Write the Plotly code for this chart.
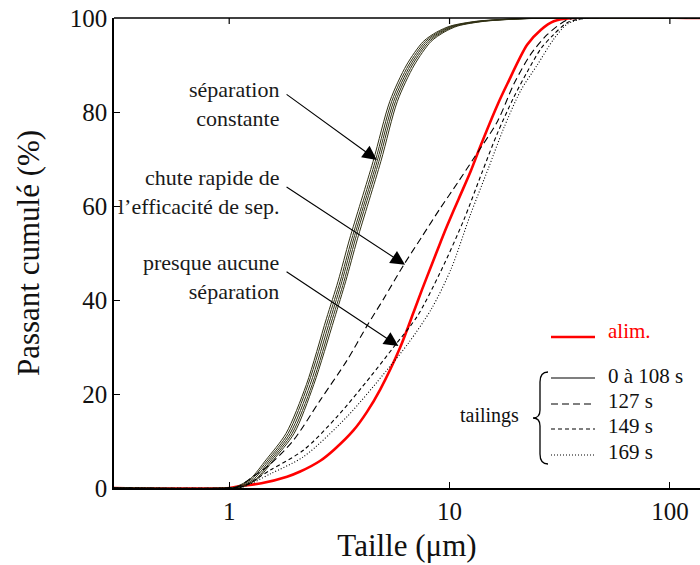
import math
import plotly.graph_objects as go

# ---------------- data ----------------
# feed ("alim.")
size_feed = [0.3, 1.0, 1.12, 1.4, 1.83, 2.1, 2.59, 3.0, 3.67, 4.22, 4.85, 5.98, 6.88, 7.5, 8.3, 9.1,
             9.75, 11, 12.5, 13.8, 16.5, 18.3, 22.5, 26, 29.7, 36, 137]
pct_feed = [0, 0, 0.4, 1.0, 2.4, 3.5, 5.8, 8.2, 12.3, 16.2, 21, 30, 37.5, 42.2, 47.5, 52.3,
            55.8, 61.5, 67.5, 72.7, 81.5, 86, 94.3, 97.5, 99.3, 100, 100]

# tailings 0 to 108 s (bundle of nearly identical curves)
pct_bundle = [0, 0, 0.3, 2, 6, 11.6, 22, 36, 44, 53, 69.5, 82.3, 90, 95, 97, 98.3, 99.3, 99.8, 100, 100]
size_t1 = [0.3, 1.0, 1.08, 1.25, 1.47, 1.81, 2.24, 2.76, 3.12, 3.52, 4.50, 5.36, 6.38, 7.60, 8.74, 10.1, 13.2, 19.2, 29, 137]
size_t2 = [0.3, 1.0, 1.10, 1.27, 1.50, 1.85, 2.28, 2.82, 3.19, 3.60, 4.60, 5.47, 6.52, 7.76, 8.92, 10.3, 13.5, 19.6, 29.5, 137]
size_t3 = [0.3, 1.0, 1.12, 1.30, 1.53, 1.89, 2.33, 2.88, 3.25, 3.67, 4.69, 5.58, 6.65, 7.92, 9.10, 10.5, 13.8, 20.0, 30, 137]
size_t4 = [0.3, 1.0, 1.14, 1.33, 1.56, 1.93, 2.38, 2.94, 3.32, 3.74, 4.78, 5.69, 6.78, 8.08, 9.28, 10.7, 14.1, 20.4, 30.5, 137]
size_t5 = [0.3, 1.0, 1.16, 1.35, 1.59, 1.97, 2.42, 3.00, 3.38, 3.82, 4.88, 5.80, 6.92, 8.24, 9.46, 10.9, 14.4, 20.8, 31, 137]

# tailings 127 s
size_127 = [0.3, 1.0, 1.1, 1.29, 1.53, 1.96, 2.59, 3.43, 4.22, 5.03, 6.2, 7.5, 9.1, 10.9, 12.9, 16.5,
            19.6, 23.3, 27.8, 34.2, 40, 137]
pct_127 = [0, 0, 0.3, 2.5, 5, 10.2, 18.7, 27.2, 34.5, 40.3, 47.5, 53.5, 59.6, 65, 70.2, 78,
           86, 92.2, 96.5, 99.6, 100, 100]

# tailings 149 s
size_149 = [0.3, 1.0, 1.15, 1.535, 2.18, 3.09, 4.38, 5.58, 7.13, 9.1, 11.6, 14, 16.5, 19.5, 22.5,
            26, 29.7, 34.2, 42, 137]
pct_149 = [0, 0, 0.3, 3.8, 8.1, 15.2, 23.7, 30, 36.5, 46, 57, 67, 75.5, 83, 88.5,
           93.5, 96.5, 99, 100, 100]

# tailings 169 s
size_169 = [0.3, 1.0, 1.15, 1.535, 2.18, 3.43, 5.2, 6.5, 8.3, 10.2, 12.4, 15, 17.6, 21, 25,
            29.7, 34.2, 42, 137]
pct_169 = [0, 0, 0.2, 3, 6.7, 15.2, 25.1, 30.8, 38.2, 46.8, 58, 68, 76.5, 84.5, 90,
           95.5, 98.7, 100, 100]

x_ticks = [1, 10, 100]
x_ticktext = ["1", "10", "100"]
y_ticks = [0, 20, 40, 60, 80, 100]
x_range = [0.3, 137]

legend_labels = ["0 à 108 s", "127 s", "149 s", "169 s"]
legend_dashes = ["solid", "7px,4px", "4px,3px", "1px,2px"]

# annotation texts and the curve points their arrows point to
notes = ["séparation<br>constante", "chute rapide de<br>l’efficacité de sep.", "presque aucune<br>séparation"]
note_tips = [(4.68, 69.8), (6.28, 47.5), (5.86, 30.2)]

# ---------------- layout helpers ----------------
W, H = 700, 565
L, R, T, B = 114, 700, 18, 488
FONT = "Liberation Serif, DejaVu Serif, serif"


def px(xp):
    return (xp - L) / (R - L)


def py(yp):
    return (B - yp) / (B - T)


lr0, lr1 = math.log10(x_range[0]), math.log10(x_range[1])

fig = go.Figure()

line_kw = dict(shape="spline", smoothing=0.8)
fig.add_trace(go.Scatter(x=size_feed, y=pct_feed, mode="lines",
                         line=dict(color="#ff0000", width=2.6, **line_kw), name="alim."))
for s in [size_t1, size_t2, size_t3, size_t4, size_t5]:
    fig.add_trace(go.Scatter(x=s, y=pct_bundle, mode="lines",
                             line=dict(color="#303014", width=1, **line_kw), name="0 à 108 s"))
for s, p, d, n in [(size_127, pct_127, legend_dashes[1], "127 s"),
                   (size_149, pct_149, legend_dashes[2], "149 s"),
                   (size_169, pct_169, legend_dashes[3], "169 s")]:
    fig.add_trace(go.Scatter(x=s, y=p, mode="lines",
                             line=dict(color="black", width=1.1, dash=d, **line_kw), name=n))

shapes = []
# top frame line with inside ticks
shapes.append(dict(type="line", xref="paper", yref="paper", x0=0, x1=1, y0=1, y1=1,
                   line=dict(color="black", width=1.5)))
for v in x_ticks:
    xp = (math.log10(v) - lr0) / (lr1 - lr0)
    shapes.append(dict(type="line", xref="paper", yref="paper", x0=xp, x1=xp,
                       y0=1, y1=1 - 6 / (B - T), line=dict(color="black", width=1.2)))

# manual legend
shapes.append(dict(type="line", xref="paper", yref="paper", x0=px(551), x1=px(595),
                   y0=py(337), y1=py(337), line=dict(color="#ff0000", width=2.6)))
annotations = [dict(xref="paper", yref="paper", x=px(606), y=py(331), text="alim.",
                    showarrow=False, xanchor="left", yanchor="middle",
                    font=dict(family=FONT, size=21, color="#ff0000"))]
leg_y_line = [378, 404, 429, 455]
leg_y_text = [376, 401, 426, 452]
for lab, dsh, yl, yt in zip(legend_labels, legend_dashes, leg_y_line, leg_y_text):
    shapes.append(dict(type="line", xref="paper", yref="paper", x0=px(551), x1=px(595),
                       y0=py(yl), y1=py(yl), line=dict(color="black", width=1.2, dash=dsh)))
    annotations.append(dict(xref="paper", yref="paper", x=px(606), y=py(yt), text=lab,
                            showarrow=False, xanchor="left", yanchor="middle",
                            font=dict(family=FONT, size=21, color="#111")))
annotations.append(dict(xref="paper", yref="paper", x=px(521), y=py(415), text="tailings",
                        showarrow=False, xanchor="right", yanchor="middle",
                        font=dict(family=FONT, size=20, color="#111")))

# curly brace
bx_out, bx_mid, bx_tip = 548, 540, 533
by0, by1, bym = 372, 464, 418
brace = (f"M {px(bx_out)},{py(by0)} Q {px(bx_mid)},{py(by0)} {px(bx_mid)},{py(by0 + 10)} "
         f"L {px(bx_mid)},{py(bym - 8)} Q {px(bx_mid)},{py(bym)} {px(bx_tip)},{py(bym)} "
         f"Q {px(bx_mid)},{py(bym)} {px(bx_mid)},{py(bym + 8)} "
         f"L {px(bx_mid)},{py(by1 - 10)} Q {px(bx_mid)},{py(by1)} {px(bx_out)},{py(by1)}")
shapes.append(dict(type="path", xref="paper", yref="paper", path=brace,
                   line=dict(color="black", width=1.3)))

# text notes with arrows
note_y = [104, 192, 277]
tails = [(285, 93.3), (285, 186), (285, 270.7)]
for txt, yc in zip(notes, note_y):
    annotations.append(dict(xref="paper", yref="paper", x=px(281), y=py(yc), text=txt,
                            showarrow=False, xanchor="right", yanchor="middle", align="right",
                            font=dict(family=FONT, size=22, color="#1a1a1a")))
for (tx, ty), (ax_p, ay_p) in zip(note_tips, tails):
    tip_px = 229 + 220.5 * math.log10(tx)
    tip_py = B - ty * (B - T) / 100
    annotations.append(dict(x=math.log10(tx), y=ty, xref="x", yref="y", text="",
                            showarrow=True, arrowhead=2, arrowsize=2.6, arrowwidth=1.1,
                            arrowcolor="black", standoff=0,
                            ax=ax_p - tip_px, ay=ay_p - tip_py))

fig.update_layout(
    width=W, height=H,
    margin=dict(l=L, r=W - R, t=T, b=H - B, autoexpand=False),
    paper_bgcolor="white", plot_bgcolor="white",
    showlegend=False,
    shapes=shapes, annotations=annotations,
    font=dict(family=FONT, color="#111"),
)
fig.update_xaxes(type="log", range=[lr0, lr1], tickvals=x_ticks, ticktext=x_ticktext,
                 automargin=False,
                 ticks="inside", ticklen=6, tickwidth=1.2, tickcolor="black",
                 showline=True, linecolor="black", linewidth=1.5, showgrid=False, zeroline=False,
                 tickfont=dict(family=FONT, size=25, color="#111"),
                 title=dict(text="Taille (μm)", font=dict(family=FONT, size=31, color="#111"), standoff=11))
fig.update_yaxes(range=[0, 100], tickvals=y_ticks, ticks="inside", ticklen=6, tickwidth=1.2,
                 automargin=False,
                 tickcolor="black", showline=True, linecolor="black", linewidth=1.5,
                 showgrid=False, zeroline=False,
                 tickfont=dict(family=FONT, size=25, color="#111"),
                 title=dict(text="Passant cumulé (%)", font=dict(family=FONT, size=31, color="#111"),
                            standoff=21))

fig.write_html("out.html", config={"displayModeBar": False},
               post_script="document.body.style.margin='0px';document.body.style.overflow='hidden';")
